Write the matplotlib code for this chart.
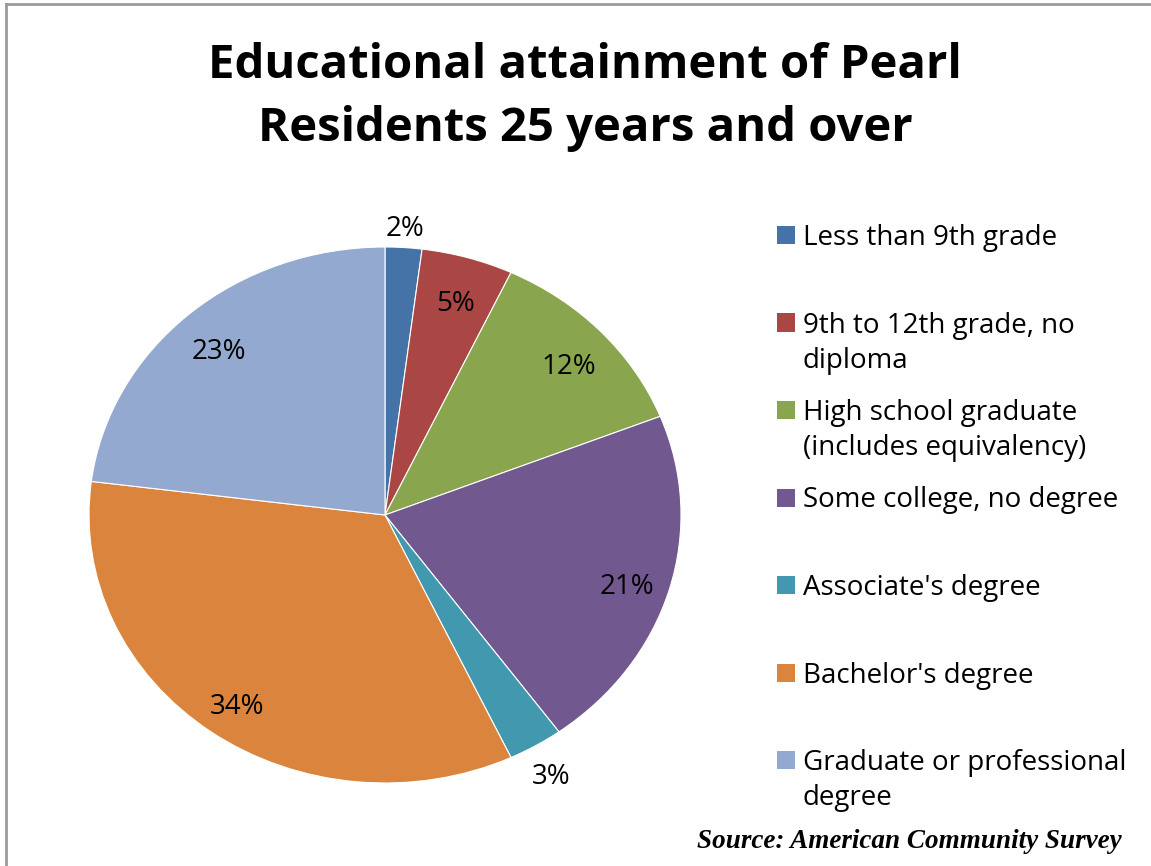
import numpy as np
import matplotlib
matplotlib.use("Agg")
import matplotlib.pyplot as plt
from matplotlib.patches import Rectangle
from matplotlib.lines import Line2D
from matplotlib.transforms import offset_copy

# educational attainment, residents 25 years and over (percent)
categories = [
    "Less than 9th grade",
    "9th to 12th grade, no\ndiploma",
    "High school graduate\n(includes equivalency)",
    "Some college, no degree",
    "Associate's degree",
    "Bachelor's degree",
    "Graduate or professional\ndegree",
]
shares = [2, 5, 12, 21, 3, 34, 23]
colors = ["#4572A7", "#AA4643", "#89A54E", "#71588F", "#4198AF", "#DB843D", "#93A9CF"]

title = "Educational attainment of Pearl\nResidents 25 years and over"
source = "Source: American Community Survey"

plt.rcParams["font.family"] = ["Open Sans", "DejaVu Sans"]

fig = plt.figure(figsize=(11.51, 8.66), dpi=100)
W, H = 1151, 866

# pie is drawn slightly wider than tall
ax = fig.add_axes([89 / W, (H - 783) / H, 592 / W, 536 / H])
wedges, _ = ax.pie(shares, colors=colors, startangle=90, counterclock=False,
                   wedgeprops=dict(edgecolor="white", linewidth=0.8))
ax.set_xlim(-1, 1)
ax.set_ylim(-1, 1)
ax.set_aspect("auto")
ax.axis("off")

# percentage labels: inside for big slices, just outside for the thin ones
lbl_tr = offset_copy(ax.transData, fig=fig, x=0, y=-8, units="dots")
for w, v in zip(wedges, shares):
    mid = np.deg2rad((w.theta1 + w.theta2) / 2)
    r = 0.85 if v >= 5 else 1.1
    ax.text(r * np.cos(mid), r * np.sin(mid), f"{v}%", ha="center", va="center",
            fontsize=20, color="black", clip_on=False, transform=lbl_tr)

fig.text(585 / W, 1 - 97 / H, title, ha="center", va="center",
         fontsize=34, fontweight="bold", linespacing=1.44)

# legend drawn by hand so every entry gets the same slot
for i, (lab, c) in enumerate(zip(categories, colors)):
    yc = 235 + i * 87.5
    fig.add_artist(Rectangle((777 / W, 1 - (yc + 9) / H), 18 / W, 18 / H,
                             transform=fig.transFigure, facecolor=c, edgecolor="none"))
    for k, line in enumerate(lab.split("\n")):
        fig.text(803 / W, 1 - (yc + 10 + k * 35) / H, line, ha="left", va="baseline",
                 fontsize=20)

fig.text(1122 / W, 1 - 842 / H, source, ha="right", va="center", fontsize=19.5,
         family="Liberation Serif", fontweight="bold", fontstyle="italic")

# chart frame (top and left edges)
fig.add_artist(Line2D([6 / W, 6 / W], [0, 1 - 4 / H], transform=fig.transFigure,
                      color="#9a9a9a", linewidth=2))
fig.add_artist(Line2D([6 / W, 1], [1 - 4 / H, 1 - 4 / H], transform=fig.transFigure,
                      color="#9a9a9a", linewidth=2))

fig.savefig("out.png", dpi=100)
